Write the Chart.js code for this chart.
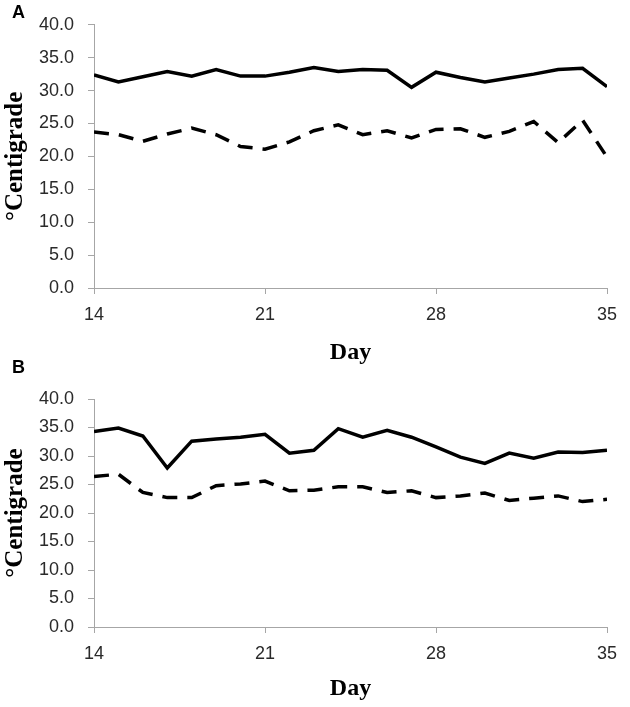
<!DOCTYPE html>
<html>
<head>
<meta charset="utf-8">
<title>Temperature by day</title>
<script src="https://cdn.jsdelivr.net/npm/chart.js"></script>
<style>
  body { margin: 0; background: #fff; }
  #wrap { position: relative; width: 630px; height: 707px; }
  canvas { position: absolute; left: 0; }
  #panelA { top: 0; }
  #panelB { top: 360px; }
  .tag {
    position: absolute;
    font-family: "Liberation Sans", Arial, sans-serif;
    font-weight: bold;
    font-size: 18px;
    line-height: 1;
    z-index: 5;
  }
</style>
</head>
<body>
<div id="wrap">
  <canvas id="panelB" width="630" height="347"></canvas>
  <canvas id="panelA" width="630" height="380"></canvas>
  <div class="tag" style="left:12px; top:3px;">A</div>
  <div class="tag" style="left:12px; top:358px;">B</div>
</div>
<script>
// days of the trial
var days = [14, 15, 16, 17, 18, 19, 20, 21, 22, 23, 24, 25, 26, 27, 28, 29, 30, 31, 32, 33, 34, 35];
var xTicks = [14, 21, 28, 35];
var yTicks = [0, 5, 10, 15, 20, 25, 30, 35, 40];

// panel A
var maxA = [32.4, 31.3, 32.1, 32.9, 32.2, 33.2, 32.2, 32.2, 32.8, 33.5, 32.9, 33.2, 33.1, 30.5, 32.8, 32.0, 31.3, 31.9, 32.5, 33.2, 33.4, 30.6];
var minA = [23.7, 23.3, 22.3, 23.4, 24.3, 23.3, 21.5, 21.1, 22.2, 23.9, 24.8, 23.3, 23.9, 22.8, 24.1, 24.2, 22.9, 23.8, 25.3, 22.1, 25.5, 19.9];

// panel B
var maxB = [34.3, 34.9, 33.5, 27.9, 32.6, 33.0, 33.3, 33.8, 30.5, 31.0, 34.8, 33.3, 34.5, 33.3, 31.6, 29.8, 28.7, 30.5, 29.6, 30.7, 30.6, 31.0];
var minB = [26.4, 26.8, 23.6, 22.7, 22.7, 24.8, 25.1, 25.6, 23.9, 24.0, 24.6, 24.6, 23.6, 23.9, 22.7, 23.0, 23.5, 22.2, 22.6, 23.0, 22.0, 22.4];

var axisGrey = '#a6a6a6';
var tickFont = { family: 'Liberation Sans', size: 18 };

function toPoints(vals) {
    return days.map(function (d, i) {
        return { x: d, y: vals[i] };
    });
}

function makeChart(id, hi, lo, topPad, xHeight, dayPad) {
    var ctx = document.getElementById(id).getContext('2d');
    return new Chart(ctx, {
        type: 'line',
        data: {
            datasets: [{
                data: toPoints(hi),
                borderColor: '#000',
                borderWidth: 3.5,
                pointRadius: 0,
                fill: false,
                tension: 0
            }, {
                data: toPoints(lo),
                borderColor: '#000',
                borderWidth: 3.5,
                borderDash: [15, 10],
                pointRadius: 0,
                fill: false,
                tension: 0
            }]
        },
        options: {
            responsive: false,
            animation: false,
            layout: { padding: { top: topPad, right: 23, left: 0, bottom: 0 } },
            plugins: {
                legend: { display: false },
                tooltip: { enabled: false }
            },
            scales: {
                x: {
                    type: 'linear',
                    min: 14,
                    max: 35,
                    afterBuildTicks: function (s) {
                        s.ticks = xTicks.map(function (v) { return { value: v }; });
                    },
                    afterFit: function (s) { s.height = xHeight; },
                    ticks: {
                        font: tickFont,
                        color: '#2a2a2a',
                        padding: 10,
                        maxRotation: 0,
                        autoSkip: false
                    },
                    grid: {
                        drawOnChartArea: false,
                        tickLength: 6,
                        color: axisGrey
                    },
                    border: { color: axisGrey, width: 1 },
                    title: {
                        display: true,
                        text: 'Day',
                        color: '#000',
                        font: { family: 'Liberation Serif', size: 24, weight: 'bold' },
                        padding: { top: 0, bottom: dayPad }
                    }
                },
                y: {
                    min: 0,
                    max: 40,
                    afterBuildTicks: function (s) {
                        s.ticks = yTicks.map(function (v) { return { value: v }; });
                    },
                    afterFit: function (s) { s.width = 94; },
                    ticks: {
                        font: tickFont,
                        color: '#2a2a2a',
                        padding: 14,
                        callback: function (v) { return v.toFixed(1); }
                    },
                    grid: {
                        drawOnChartArea: false,
                        tickLength: 6,
                        color: axisGrey
                    },
                    border: { color: axisGrey, width: 1 },
                    title: {
                        display: true,
                        text: '°Centigrade',
                        color: '#000',
                        font: { family: 'Liberation Serif', size: 25, weight: 'bold' },
                        padding: { top: 1, bottom: 0 }
                    }
                }
            }
        }
    });
}

makeChart('panelA', maxA, minA, 14, 92, 13);
makeChart('panelB', maxB, minB, 39, 80, 4);
</script>
</body>
</html>
